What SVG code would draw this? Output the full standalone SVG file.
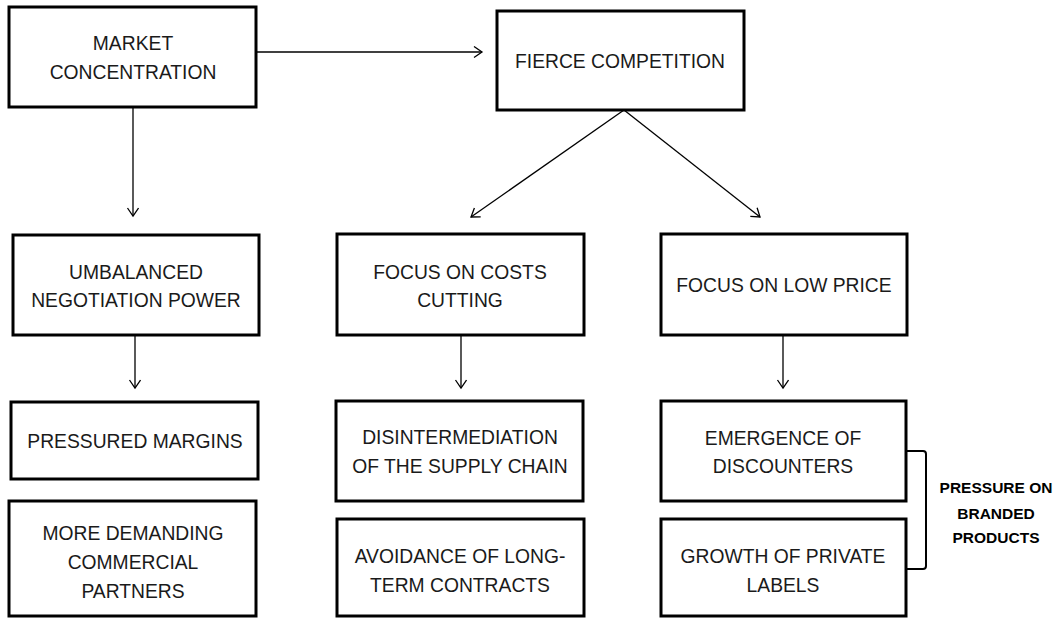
<svg xmlns="http://www.w3.org/2000/svg" width="1060" height="618" viewBox="0 0 1060 618">
  <defs>
    <style>
      .box { fill: #ffffff; stroke: #000000; stroke-width: 3; }
      .lbl { font-family: "Liberation Sans", Arial, sans-serif; font-size: 19.3px; fill: #1a1a1a; text-anchor: middle; }
      .note { font-family: "Liberation Sans", Arial, sans-serif; font-size: 15.5px; font-weight: bold; fill: #000000; text-anchor: middle; }
      .edge { fill: none; stroke: #000000; stroke-width: 1.3; marker-end: url(#arrow); }
      .brace { fill: none; stroke: #000000; stroke-width: 2; }
    </style>
    <marker id="arrow" markerUnits="userSpaceOnUse" markerWidth="12" markerHeight="14" refX="9" refY="6" orient="auto">
      <path d="M1,0.5 L9,6 L1,11.5" fill="none" stroke="#000000" stroke-width="1.3"/>
    </marker>
  </defs>

  <!-- connectors -->
  <g id="connectors">
    <line class="edge" x1="256" y1="52" x2="482" y2="52"/>
    <line class="edge" x1="133" y1="107" x2="133" y2="216"/>
    <line class="edge" x1="624" y1="110" x2="471" y2="217"/>
    <line class="edge" x1="624" y1="110" x2="760" y2="217"/>
    <line class="edge" x1="135" y1="335" x2="135" y2="388"/>
    <line class="edge" x1="461" y1="335" x2="461" y2="388"/>
    <line class="edge" x1="783" y1="335" x2="783" y2="388"/>
    <path class="brace" d="M906,451 H923 Q926,451 926,454 V566 Q926,569 923,569 H906"/>
  </g>

  <g id="market-concentration">
    <rect class="box" x="9" y="7" width="247" height="100"/>
    <text class="lbl" x="133" y="50">MARKET</text>
    <text class="lbl" x="133" y="79">CONCENTRATION</text>
  </g>

  <g id="fierce-competition">
    <rect class="box" x="497" y="11" width="247" height="99"/>
    <text class="lbl" x="620" y="68">FIERCE COMPETITION</text>
  </g>

  <g id="umbalanced-negotiation-power">
    <rect class="box" x="13" y="235" width="246" height="100"/>
    <text class="lbl" x="136" y="279">UMBALANCED</text>
    <text class="lbl" x="136" y="307">NEGOTIATION POWER</text>
  </g>

  <g id="focus-costs-cutting">
    <rect class="box" x="337" y="234" width="247" height="101"/>
    <text class="lbl" x="460" y="279">FOCUS ON COSTS</text>
    <text class="lbl" x="460" y="307">CUTTING</text>
  </g>

  <g id="focus-low-price">
    <rect class="box" x="661" y="234" width="246" height="101"/>
    <text class="lbl" x="784" y="292">FOCUS ON LOW PRICE</text>
  </g>

  <g id="pressured-margins">
    <rect class="box" x="11" y="402" width="247" height="77"/>
    <text class="lbl" x="135" y="448">PRESSURED MARGINS</text>
  </g>

  <g id="demanding-partners">
    <rect class="box" x="9" y="501" width="247" height="115"/>
    <text class="lbl" x="133" y="540">MORE DEMANDING</text>
    <text class="lbl" x="133" y="569">COMMERCIAL</text>
    <text class="lbl" x="133" y="598">PARTNERS</text>
  </g>

  <g id="disintermediation">
    <rect class="box" x="336" y="401" width="247" height="100"/>
    <text class="lbl" x="460" y="444">DISINTERMEDIATION</text>
    <text class="lbl" x="460" y="473">OF THE SUPPLY CHAIN</text>
  </g>

  <g id="avoidance-contracts">
    <rect class="box" x="337" y="519" width="247" height="97"/>
    <text class="lbl" x="460" y="563">AVOIDANCE OF LONG-</text>
    <text class="lbl" x="460" y="592">TERM CONTRACTS</text>
  </g>

  <g id="emergence-discounters">
    <rect class="box" x="661" y="401" width="245" height="100"/>
    <text class="lbl" x="783" y="445">EMERGENCE OF</text>
    <text class="lbl" x="783" y="473">DISCOUNTERS</text>
  </g>

  <g id="private-labels">
    <rect class="box" x="661" y="519" width="245" height="97"/>
    <text class="lbl" x="783" y="563">GROWTH OF PRIVATE</text>
    <text class="lbl" x="783" y="592">LABELS</text>
  </g>

  <g id="pressure-branded">
    <text class="note" x="996" y="493">PRESSURE ON</text>
    <text class="note" x="996" y="519">BRANDED</text>
    <text class="note" x="996" y="543">PRODUCTS</text>
  </g>
</svg>
